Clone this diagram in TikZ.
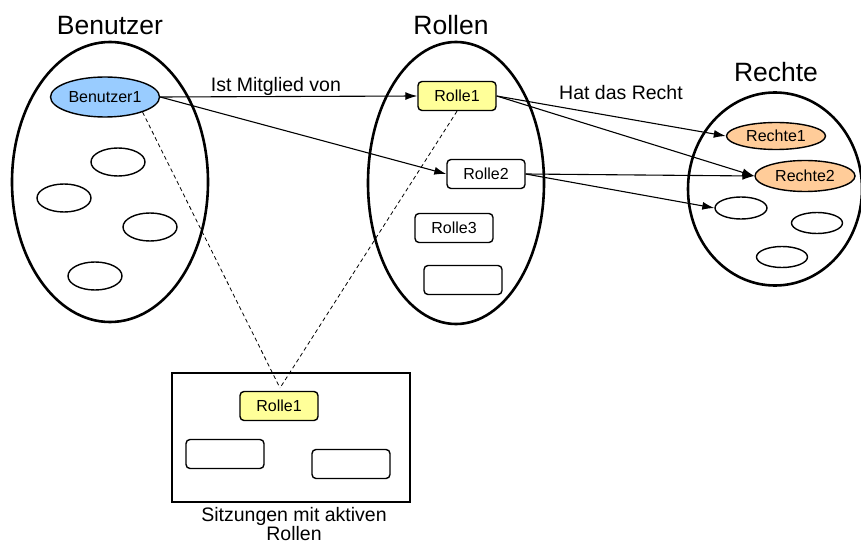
\documentclass[tikz,border=0pt]{standalone}
\usepackage{fontspec}
\setmainfont{Liberation Sans}
\usepackage{tikz}
\usetikzlibrary{positioning,shapes,arrows.meta}
\definecolor{userblue}{RGB}{153,204,255}
\definecolor{roleyellow}{RGB}{255,255,153}
\definecolor{rightorange}{RGB}{255,204,153}

\tikzset{
  setellipse/.style={ellipse, draw, line width=2.6pt, inner sep=0pt},
  settitle/.style={anchor=base, font=\fontsize{26.5}{30}\selectfont},
  item/.style={ellipse, draw, line width=1.4pt, inner sep=0pt, minimum width=54pt, minimum height=28pt, font=\fontsize{16}{18}\selectfont},
  rolebox/.style={rectangle, rounded corners=4pt, draw, line width=1.4pt, minimum width=78pt, minimum height=29pt, inner sep=0pt, font=\fontsize{16}{18}\selectfont},
  member/.style={-{Latex[length=12pt,width=8pt]}, line width=1.1pt},
  linktext/.style={inner sep=0pt, font=\fontsize{19.5}{18}\selectfont},
  activeline/.style={dashed, dash pattern=on 4pt off 3pt, line width=0.8pt}
}

\begin{document}
\begin{tikzpicture}[x=1pt,y=-1pt]
\useasboundingbox (0,0) rectangle (861,545);

% Benutzer set
\node[settitle] (usertitle) at (110,35) {Benutzer};
\node[setellipse, minimum width=196pt, minimum height=280pt] (userset) at (110,182) {};
\node[item, fill=userblue, minimum width=109pt, minimum height=40pt] (user1) at (105,97) {Benutzer1};
\node[item] (user2) at (118,162) {};
\node[item] (user3) at (64,198) {};
\node[item] (user4) at (150,227) {};
\node[item] (user5) at (95,276) {};

% Rollen set
\node[settitle] (roletitle) at (451,35) {Rollen};
\node[setellipse, minimum width=176pt, minimum height=282pt] (roleset) at (456,183) {};
\node[rolebox, fill=roleyellow] (role1) at (457,96) {Rolle1};
\node[rolebox] (role2) at (486,174) {Rolle2};
\node[rolebox] (role3) at (454,228) {Rolle3};
\node[rolebox] (role4) at (463,280) {};

% Rechte set
\node[settitle] (righttitle) at (776,82) {Rechte};
\node[setellipse, minimum width=174pt, minimum height=193pt] (rightset) at (775,189) {};
\node[item, fill=rightorange, minimum width=99pt, minimum height=27pt] (right1) at (776,136) {Rechte1};
\node[item, fill=rightorange, minimum width=100pt, minimum height=31pt] (right2) at (805,176) {Rechte2};
\node[item, minimum width=52pt, minimum height=22pt] (right3) at (741,208) {};
\node[item, minimum width=51pt, minimum height=21pt] (right4) at (817,223) {};
\node[item, minimum width=51pt, minimum height=21pt] (right5) at (782,257) {};

% Session with active roles
\node[draw, line width=2.6pt, minimum width=238pt, minimum height=129pt, inner sep=0pt] (session) at (291,437.5) {};
\node[rolebox, fill=roleyellow] (srole1) at (279,406) {Rolle1};
\node[rolebox] (srole2) at (225,454) {};
\node[rolebox] (srole3) at (351,464) {};
\node[linktext, align=center, font=\fontsize{19.5}{17}\selectfont] (sessiontext) at (294,524) {Sitzungen mit aktiven\\Rollen};

% Arrows between the sets
\draw[member] (user1.east) -- node[linktext, above, pos=0.45] (membertext) {Ist Mitglied von} (role1.west);
\draw[member] (user1.east) -- (role2.west);
\draw[member] (role1.east) -- (right1.west);
\draw[member] (role1.east) -- (right2.west);
\draw[member] (role2.east) -- (right2.west);
\draw[member] (role2.east) -- (right3.west);
\node[linktext, anchor=base] (righttext) at (621,100) {Hat das Recht};

% Dashed lines down to the session
\coordinate (meet) at (280,388);
\draw[activeline] (user1.-22) -- (meet);
\draw[activeline] (role1.south) -- (meet);
\end{tikzpicture}
\end{document}
